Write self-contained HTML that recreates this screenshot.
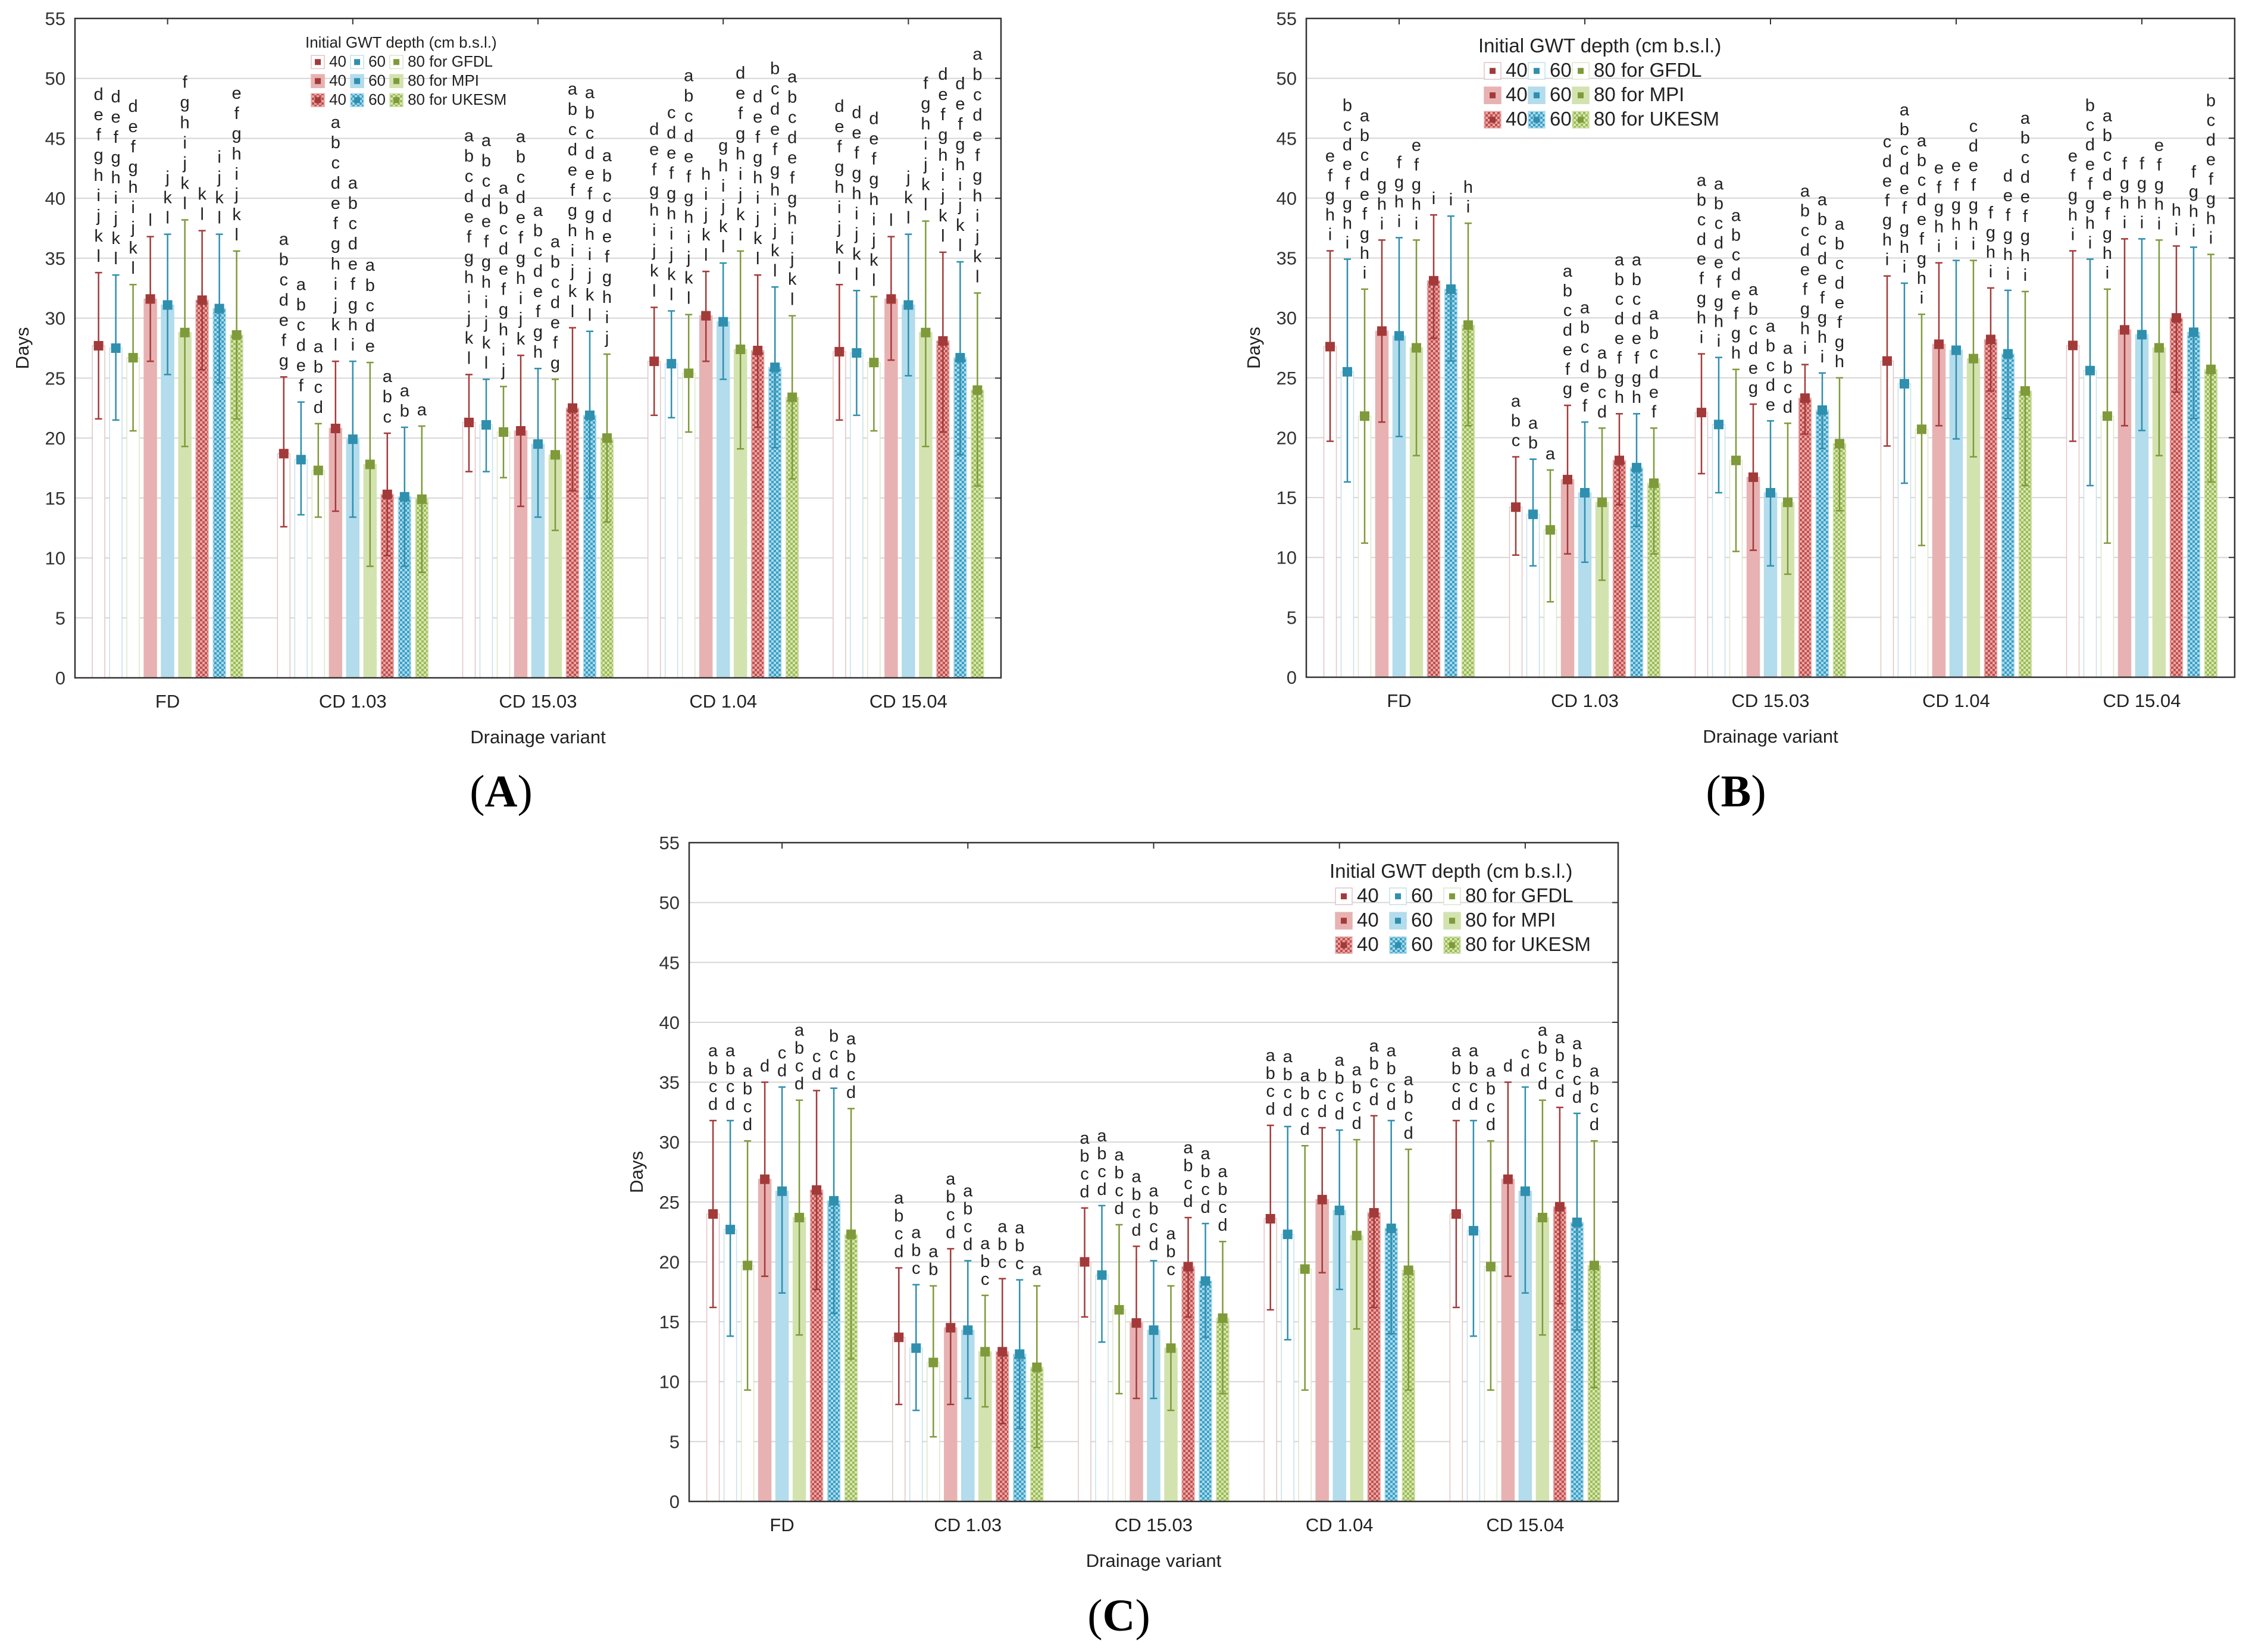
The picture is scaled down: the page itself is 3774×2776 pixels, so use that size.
<!DOCTYPE html>
<html><head><meta charset="utf-8">
<style>
html,body{margin:0;padding:0;background:#fff;}
svg{display:block;}
</style></head>
<body>
<svg id="fig" xmlns="http://www.w3.org/2000/svg" width="3774" height="2776" viewBox="0 0 3774 2776" font-family="Liberation Sans, sans-serif">
<defs>
<pattern id="chkR" width="8" height="8" patternUnits="userSpaceOnUse"><rect width="8" height="8" fill="#eaa6a6"/><rect width="4" height="4" fill="#c0504d"/><rect x="4" y="4" width="4" height="4" fill="#c0504d"/></pattern>
<pattern id="chkB" width="8" height="8" patternUnits="userSpaceOnUse"><rect width="8" height="8" fill="#a9d9ea"/><rect width="4" height="4" fill="#3a9fc6"/><rect x="4" y="4" width="4" height="4" fill="#3a9fc6"/></pattern>
<pattern id="chkG" width="8" height="8" patternUnits="userSpaceOnUse"><rect width="8" height="8" fill="#d7e6b0"/><rect width="4" height="4" fill="#9bbb59"/><rect x="4" y="4" width="4" height="4" fill="#9bbb59"/></pattern>
</defs>
</svg>
<script>
const categories = ["FD","CD 1.03","CD 15.03","CD 1.04","CD 15.04"];
const yTicks = [0,5,10,15,20,25,30,35,40,45,50,55];
const seriesNames = ["40 GFDL","60 GFDL","80 GFDL","40 MPI","60 MPI","80 MPI","40 UKESM","60 UKESM","80 UKESM"];
// Panel A
const meanA = [[27.7,27.5,26.7,31.6,31.1,28.8,31.5,30.8,28.6],[18.7,18.2,17.3,20.8,19.9,17.8,15.3,15.1,14.9],[21.3,21.1,20.5,20.6,19.5,18.6,22.5,21.9,20.0],[26.4,26.2,25.4,30.2,29.7,27.4,27.3,25.9,23.4],[27.2,27.1,26.3,31.6,31.1,28.8,28.1,26.7,24.0]];
const lowA = [[21.6,21.5,20.6,26.4,25.3,19.3,25.7,24.6,21.6],[12.6,13.6,13.4,13.9,13.4,9.3,10.2,9.3,8.8],[17.2,17.2,16.7,14.3,13.4,12.3,15.6,15.0,13.0],[21.9,21.7,20.5,26.4,24.9,19.1,20.9,19.2,16.6],[21.5,21.9,20.6,26.5,25.2,19.3,20.5,18.6,16.0]];
const highA = [[33.8,33.6,32.8,36.8,37.0,38.2,37.3,37.0,35.6],[25.1,23.0,21.2,26.4,26.4,26.3,20.4,20.9,21.0],[25.3,24.9,24.3,26.9,25.8,24.9,29.2,28.9,27.0],[30.9,30.6,30.3,33.9,34.6,35.6,33.6,32.6,30.2],[32.8,32.3,31.8,36.8,37.0,38.1,35.5,34.7,32.1]];
const letA = [["defghijkl","defghijkl","defghijkl","l","jkl","fghijkl","kl","ijkl","efghijkl"],["abcdefg","abcdef","abcd","abcdefghijkl","abcdefghi","abcde","abc","ab","a"],["abcdefghijkl","abcdefghijkl","abcdefghij","abcdefghijk","abcdefgh","abcdefg","abcdefghijkl","abcdefghijkl","abcdefghij"],["defghijkl","cdefghijkl","abcdefghijkl","hijkl","ghijkl","defghijkl","defghijkl","bcdefghijkl","abcdefghijkl"],["defghijkl","defghijkl","defghijkl","l","jkl","fghijkl","defghijkl","defghijkl","abcdefghijkl"]];
// Panel B
const meanB = [[27.6,25.5,21.8,28.9,28.5,27.5,33.1,32.4,29.4],[14.2,13.6,12.3,16.5,15.4,14.6,18.1,17.5,16.2],[22.1,21.1,18.1,16.7,15.4,14.6,23.3,22.3,19.5],[26.4,24.5,20.7,27.8,27.3,26.6,28.2,27.0,23.9],[27.7,25.6,21.8,29.0,28.6,27.5,30.0,28.8,25.7]];
const lowB = [[19.7,16.3,11.2,21.3,20.1,18.5,28.3,26.4,21.0],[10.2,9.3,6.3,10.3,9.6,8.1,14.4,12.6,10.3],[17.0,15.4,10.5,10.6,9.3,8.6,20.3,19.1,13.9],[19.3,16.2,11.0,21.0,19.9,18.4,23.9,21.6,16.0],[19.7,16.0,11.2,21.0,20.6,18.5,23.8,21.6,16.3]];
const highB = [[35.6,34.9,32.4,36.5,36.7,36.5,38.6,38.5,37.9],[18.4,18.2,17.3,22.7,21.3,20.8,22.0,22.0,20.8],[27.0,26.7,25.7,22.8,21.4,21.2,26.1,25.4,25.0],[33.5,32.9,30.3,34.6,34.8,34.8,32.5,32.3,32.2],[35.6,34.9,32.4,36.6,36.6,36.5,36.0,35.9,35.3]];
const letB = [["efghi","bcdefghi","abcdefghi","ghi","fghi","efghi","i","i","hi"],["abc","ab","a","abcdefg","abcdef","abcd","abcdefgh","abcdefgh","abcdef"],["abcdefghi","abcdefghi","abcdefgh","abcdeg","abcde","abcd","abcdefghi","abcdefghi","abcdefgh"],["cdefghi","abcdefghi","abcdefghi","efghi","efghi","cdefghi","fghi","defghi","abcdefghi"],["efghi","bcdefghi","abcdefghi","fghi","fghi","efghi","hi","fghi","bcdefghi"]];
// Panel C
const meanC = [[24.0,22.7,19.7,26.9,25.9,23.7,26.0,25.1,22.3],[13.7,12.8,11.6,14.5,14.3,12.5,12.5,12.3,11.2],[20.0,18.9,16.0,14.9,14.3,12.8,19.6,18.4,15.3],[23.6,22.3,19.4,25.2,24.3,22.2,24.1,22.8,19.3],[24.0,22.6,19.6,26.9,25.9,23.7,24.6,23.3,19.7]];
const lowC = [[16.2,13.8,9.3,18.8,17.4,13.9,17.7,15.7,11.9],[8.1,7.6,5.4,8.1,8.6,7.9,6.5,6.1,4.5],[15.4,13.3,9.0,8.6,8.6,7.6,15.4,13.7,9.0],[16.0,13.5,9.3,19.1,17.7,14.4,16.2,14.0,9.3],[16.2,13.8,9.3,18.8,17.4,13.9,16.5,14.3,9.5]];
const highC = [[31.8,31.8,30.1,35.0,34.6,33.5,34.3,34.5,32.8],[19.5,18.1,18.0,21.1,20.1,17.2,18.6,18.5,18.0],[24.5,24.7,23.1,21.3,20.1,18.0,23.7,23.2,21.7],[31.4,31.3,29.7,31.2,31.0,30.2,32.2,31.8,29.4],[31.8,31.8,30.1,35.0,34.6,33.5,32.9,32.4,30.1]];
const letC = [["abcd","abcd","abcd","d","cd","abcd","cd","bcd","abcd"],["abcd","abc","ab","abcd","abcd","abc","abc","abc","a"],["abcd","abcd","abcd","abcd","abcd","abc","abcd","abcd","abcd"],["abcd","abcd","abcd","bcd","abcd","abcd","abcd","abcd","abcd"],["abcd","abcd","abcd","d","cd","abcd","abcd","abcd","abcd"]];

const NS="http://www.w3.org/2000/svg";
const svg=document.getElementById('fig');
function mk(tag,attrs,parent,txt){const e=document.createElementNS(NS,tag);for(const k in attrs)e.setAttribute(k,attrs[k]);if(txt!==undefined)e.textContent=txt;(parent||svg).appendChild(e);return e;}
const dark=["#a33a3a","#2f8fae","#7f9a3a"];
const light=["#e8b2b2","#b3dcec","#d3e3b0"];
const chk=["url(#chkR)","url(#chkB)","url(#chkG)"];
const outline=["#e2c4c4","#c4e0ea","#dde6c8"];

function panel(id,x0,y0,w,h,means,lows,highs,lets,leg,label,lx,ly,ls){
  const g=mk('g',{});
  
  
  const ys=v=>y0+h-v*h/55;
  const gw=w/categories.length, pitch=29, bw=21;
  yTicks.forEach(t=>{
    const gl=mk('line',{x1:x0,x2:x0+w,y1:ys(t),y2:ys(t),stroke:'#d6d6d6','stroke-width':2},g);
    
    
    const tl=mk('text',{x:x0-16,y:ys(t)+11,'text-anchor':'end','font-size':31,fill:'#333'},g,String(t));
    
    
    mk('line',{x1:x0+w,x2:x0+w-10,y1:ys(t),y2:ys(t),stroke:'#333','stroke-width':2},g);
  });
  categories.forEach((c,ci)=>{
    const cx=x0+gw*(ci+0.5);
    mk('line',{x1:cx,x2:cx,y1:y0,y2:y0+10,stroke:'#333','stroke-width':2},g);
    mk('line',{x1:cx,x2:cx,y1:y0+h,y2:y0+h-10,stroke:'#333','stroke-width':2},g);
    const cl=mk('text',{x:cx,y:y0+h+50,'text-anchor':'middle','font-size':31,fill:'#222'},g,c);
    
    
    for(let s=0;s<9;s++){
      const bx=cx+(s-4)*pitch, ci3=s%3, model=Math.floor(s/3);
      const m=means[ci][s], yt=ys(m);
      let fill='#fff',stroke=outline[ci3];
      if(model===1){fill=light[ci3];stroke=light[ci3];}
      if(model===2){fill=chk[ci3];stroke=light[ci3];}
      const b=mk('rect',{x:bx-bw/2,y:yt,width:bw,height:y0+h-yt,fill:fill,stroke:stroke,'stroke-width':1.5},g);
      
      
      const eh=ys(highs[ci][s]), el=ys(lows[ci][s]);
      const e=mk('path',{d:`M${bx},${eh}V${el}M${bx-6},${eh}H${bx+6}M${bx-6},${el}H${bx+6}`,stroke:dark[ci3],'stroke-width':2.5,fill:'none'},g);
      
      
      const mm=mk('rect',{x:bx-8,y:yt-8,width:16,height:16,fill:dark[ci3]},g);
      
      
      const L=lets[ci][s];
      for(let k=0;k<L.length;k++){
        const lt=mk('text',{x:bx,y:eh-18-(L.length-1-k)*ls,'text-anchor':'middle','font-size':29,fill:'#222'},g,L[k]);
        
        
      }
    }
  });
  const fr=mk('rect',{x:x0,y:y0,width:w,height:h,fill:'none',stroke:'#333','stroke-width':2.5},g);
  
  
  const yt=mk('text',{x:0,y:0,transform:`translate(${x0-78},${y0+h/2}) rotate(-90)`,'text-anchor':'middle','font-size':31,fill:'#222'},g,'Days');
  
  
  const xt=mk('text',{x:x0+w/2,y:y0+h+110,'text-anchor':'middle','font-size':31,fill:'#222'},g,'Drainage variant');
  
  
  const lg=mk('g',{},g);
  
  
  const lt=mk('text',{x:leg.x,y:leg.y,'font-size':leg.fs,fill:'#222'},lg,'Initial GWT depth (cm b.s.l.)');
  
  
  const models=["GFDL","MPI","UKESM"], nums=["40","60","80"];
  for(let r=0;r<3;r++){
    const ry=leg.y+leg.rh*(r+1);
    for(let c=0;c<3;c++){
      const sx=leg.x+10+c*leg.cw, sz=leg.fs*0.85;
      let fill='#fff',st=outline[c];
      if(r===1){fill=light[c];st=light[c];}
      if(r===2){fill=chk[c];st=light[c];}
      const sw=mk('rect',{x:sx,y:ry-sz*0.85,width:sz,height:sz,fill:fill,stroke:st,'stroke-width':1.5},lg);
      
      
      mk('rect',{x:sx+sz/2-5,y:ry-sz*0.85+sz/2-5,width:10,height:10,fill:dark[c]},lg);
      const te=mk('text',{x:sx+sz+8,y:ry,'font-size':leg.fs,fill:'#222'},lg,c===2?nums[c]+' for '+models[r]:nums[c]);
      
      
    }
  }
  const pl=mk('text',{x:lx,y:ly,'text-anchor':'middle','font-size':76,fill:'#000','font-family':'Liberation Serif, serif'},g);
  
  
  mk('tspan',{},pl,'(');mk('tspan',{'font-weight':'bold'},pl,label);mk('tspan',{},pl,')');
}
panel('a',126,31,1556,1108,meanA,lowA,highA,letA,{x:513,y:80,fs:26,rh:32,cw:66},'A',842,1355,34);
panel('b',2195,31,1560,1107,meanB,lowB,highB,letB,{x:2484,y:88,fs:33,rh:41,cw:74},'B',2917,1355,33);
panel('c',1158,1416,1561,1107,meanC,lowC,highC,letC,{x:2234,y:1475,fs:33,rh:41,cw:91},'C',1880,2740,30);
</script>
</body></html>
